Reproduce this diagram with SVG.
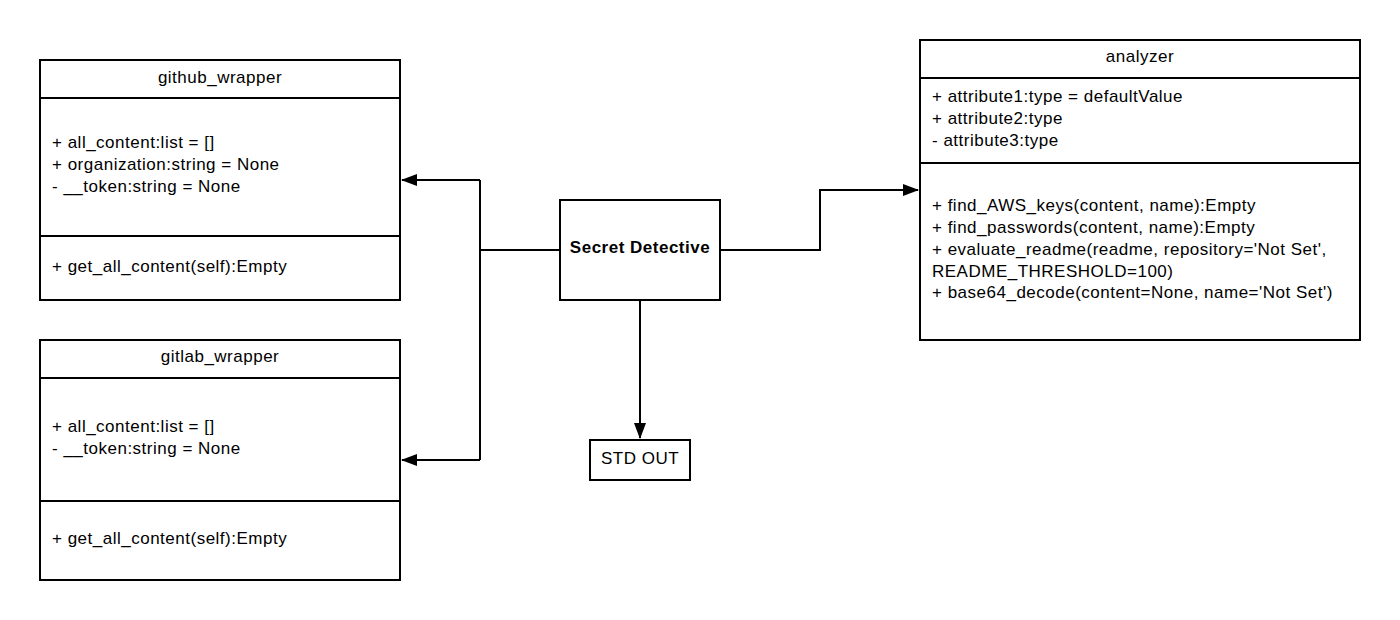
<svg xmlns="http://www.w3.org/2000/svg" width="1400" height="620" viewBox="0 0 1400 620">
<defs>
<style>
.box{fill:#fff;stroke:#000;stroke-width:2}
.div{stroke:#000;stroke-width:2}
.t{font-family:"Liberation Sans",Arial,sans-serif;font-size:17px;letter-spacing:0.5px;fill:#000}
.c{text-anchor:middle}
.b{font-weight:bold}
.conn{fill:none;stroke:#000;stroke-width:2}
</style>
<marker id="arr" markerWidth="16" markerHeight="12" refX="15" refY="6" orient="auto" markerUnits="userSpaceOnUse">
<path d="M0,0 L16,6 L0,12 Z" fill="#000"/>
</marker>
</defs>
<rect width="1400" height="620" fill="#fff"/>
<g id="connectors">
<polyline class="conn" points="560,250 480,250"/>
<polyline class="conn" points="480,180 480,460"/>
<polyline class="conn" points="480,180 402,180" marker-end="url(#arr)"/>
<polyline class="conn" points="480,460 402,460" marker-end="url(#arr)"/>
<polyline class="conn" points="720,250 820,250 820,190 918,190" marker-end="url(#arr)"/>
<polyline class="conn" points="640,300 640,438" marker-end="url(#arr)"/>
</g>
<g id="github_wrapper">
<rect class="box" x="40" y="60" width="360" height="240"/>
<line class="div" x1="40" y1="98" x2="400" y2="98"/>
<line class="div" x1="40" y1="236" x2="400" y2="236"/>
<text class="t c" x="220" y="83">github_wrapper</text>
<text class="t" x="52" y="148">+ all_content:list = []</text>
<text class="t" x="52" y="170">+ organization:string = None</text>
<text class="t" x="52" y="192">- __token:string = None</text>
<text class="t" x="52" y="272">+ get_all_content(self):Empty</text>
</g>
<g id="gitlab_wrapper">
<rect class="box" x="40" y="340" width="360" height="240"/>
<line class="div" x1="40" y1="378" x2="400" y2="378"/>
<line class="div" x1="40" y1="501" x2="400" y2="501"/>
<text class="t c" x="220" y="362">gitlab_wrapper</text>
<text class="t" x="52" y="432">+ all_content:list = []</text>
<text class="t" x="52" y="454">- __token:string = None</text>
<text class="t" x="52" y="544">+ get_all_content(self):Empty</text>
</g>
<g id="secret_detective">
<rect class="box" x="560" y="200" width="160" height="100"/>
<text class="t c b" x="640" y="253">Secret Detective</text>
</g>
<g id="std_out">
<rect class="box" x="590" y="440" width="100" height="40"/>
<text class="t c" x="640" y="464">STD OUT</text>
</g>
<g id="analyzer">
<rect class="box" x="920" y="40" width="440" height="300"/>
<line class="div" x1="920" y1="78" x2="1360" y2="78"/>
<line class="div" x1="920" y1="163" x2="1360" y2="163"/>
<text class="t c" x="1140" y="62">analyzer</text>
<text class="t" x="932" y="102">+ attribute1:type = defaultValue</text>
<text class="t" x="932" y="124">+ attribute2:type</text>
<text class="t" x="932" y="146">- attribute3:type</text>
<text class="t" x="932" y="211">+ find_AWS_keys(content, name):Empty</text>
<text class="t" x="932" y="233">+ find_passwords(content, name):Empty</text>
<text class="t" x="932" y="255">+ evaluate_readme(readme, repository='Not Set',</text>
<text class="t" x="932" y="277">README_THRESHOLD=100)</text>
<text class="t" x="932" y="298">+ base64_decode(content=None, name='Not Set')</text>
</g>
</svg>
